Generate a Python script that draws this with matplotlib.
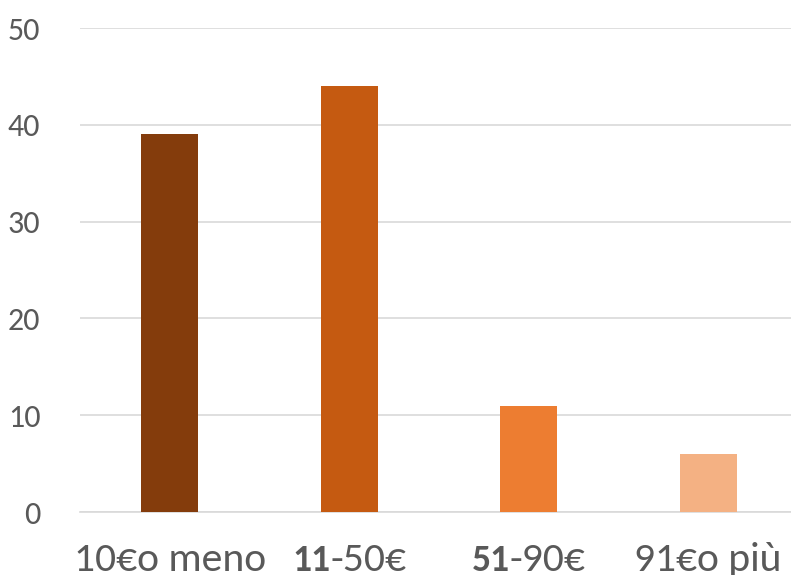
import matplotlib.pyplot as plt
from matplotlib.transforms import offset_copy

categories = ['10€o meno', '11-50€', '51-90€', '91€o più']
bold_part = ['', '11', '51', '']
rest_part = ['10€o meno', '-50€', '-90€', '91€o più']
values = [39, 44, 11, 6]
colors = ['#843C0C', '#C55A11', '#ED7D31', '#F4B183']
yticks = [0, 10, 20, 30, 40, 50]

plt.rcParams['font.family'] = ['Carlito', 'DejaVu Sans']
grey = '#595959'

fig = plt.figure(figsize=(7.91, 5.75), dpi=100)
ax = fig.add_axes([80 / 791, 63 / 575, 718 / 791, 484 / 575])

x = list(range(len(categories)))
ax.bar(x, values, width=0.32, color=colors, zorder=3)

ax.set_xlim(-0.5, 3.5)
ax.set_ylim(0, 50)
ax.set_yticks(yticks)
ax.set_yticklabels([str(t) for t in yticks], fontsize=23, color=grey)
ax.yaxis.grid(True, color='#D9D9D9', linewidth=1.2)
ax.set_axisbelow(True)
for s in ['top', 'right', 'left']:
    ax.spines[s].set_visible(False)
ax.spines['bottom'].set_color('#D9D9D9')
ax.spines['bottom'].set_linewidth(1.2)
ax.tick_params(left=False, bottom=False)
ax.tick_params(axis='y', pad=25)
ax.set_xticks(x)
ax.set_xticklabels([''] * len(x))

# x labels, first part bold
fig.canvas.draw()
renderer = fig.canvas.get_renderer()
trans = ax.get_xaxis_transform()
ylab = -0.122
for i in x:
    tr = ax.text(i, ylab, rest_part[i], transform=trans, fontsize=30,
                 color=grey, ha='left', va='baseline')
    wr = tr.get_window_extent(renderer).width
    if bold_part[i]:
        tb = ax.text(i, ylab, bold_part[i], transform=trans, fontsize=27,
                     fontweight='bold', color=grey, ha='right', va='baseline')
        wb = tb.get_window_extent(renderer).width
    else:
        tb = None
        wb = 0
    d = (wb - wr) / 2
    tr.set_transform(offset_copy(trans, fig=fig, x=d, y=0, units='dots'))
    if tb is not None:
        tb.set_transform(offset_copy(trans, fig=fig, x=d, y=0, units='dots'))

fig.savefig('out.png', dpi=100)
